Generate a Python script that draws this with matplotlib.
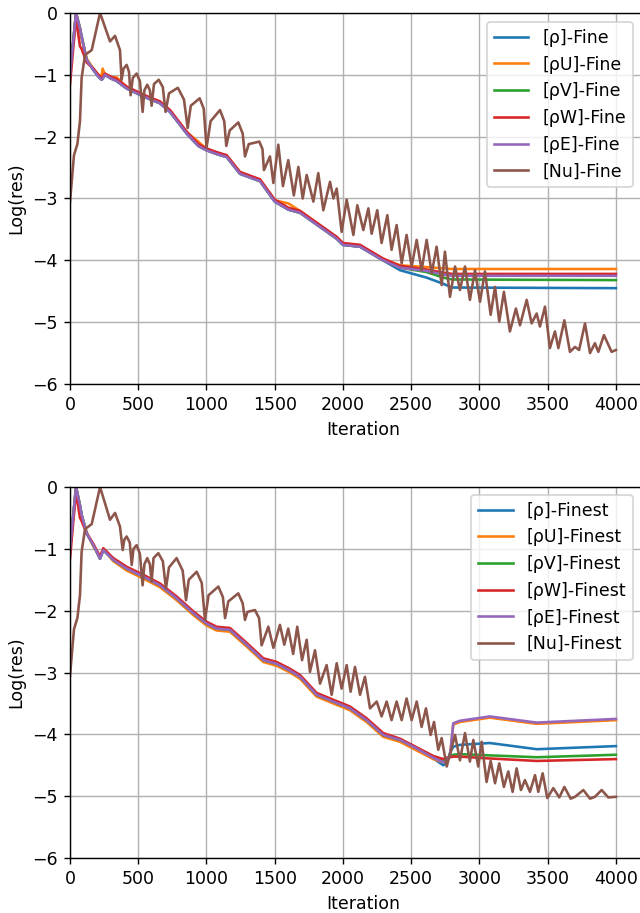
import numpy as np
import matplotlib.pyplot as plt

# Residual history (Fine / Finest grid)

# ---------- Fine grid ----------
it_fine = [0, 44, 73, 85, 122, 171, 208, 232, 239, 256, 300, 342, 415, 537, 659, 733, 855, 940,
           1000, 1074, 1148, 1245, 1392, 1500, 1600, 1685, 1954, 2000, 2125, 2293, 2418, 2613,
           2735, 2800, 4000]
rho_fine = [-1.00, 0.00, -0.25, -0.38, -0.76, -0.92, -1.03, -1.08, -1.06, -1.00, -1.06, -1.10,
            -1.22, -1.35, -1.46, -1.60, -1.95, -2.15, -2.22, -2.28, -2.33, -2.60, -2.72, -3.05,
            -3.18, -3.23, -3.65, -3.75, -3.78, -4.00, -4.16, -4.28, -4.38, -4.44, -4.45]
rhou_fine = [-1.00, 0.00, -0.25, -0.40, -0.74, -0.90, -1.00, -1.02, -0.90, -1.00, -1.04, -1.04,
             -1.20, -1.33, -1.45, -1.58, -1.93, -2.08, -2.20, -2.26, -2.31, -2.58, -2.70, -3.03,
             -3.08, -3.20, -3.63, -3.73, -3.76, -3.98, -4.08, -4.11, -4.13, -4.14, -4.14]
rhov_fine = [-1.00, 0.00, -0.25, -0.38, -0.76, -0.92, -1.03, -1.08, -1.06, -1.00, -1.06, -1.10,
             -1.22, -1.35, -1.46, -1.60, -1.95, -2.15, -2.22, -2.28, -2.33, -2.60, -2.72, -3.05,
             -3.18, -3.23, -3.65, -3.75, -3.78, -4.00, -4.12, -4.19, -4.28, -4.31, -4.32]
rhow_fine = [-1.15, -0.08, -0.54, -0.58, -0.80, -0.90, -1.00, -1.05, -1.04, -0.98, -1.03, -1.07,
             -1.19, -1.32, -1.43, -1.57, -1.92, -2.12, -2.19, -2.25, -2.30, -2.57, -2.69, -3.02,
             -3.15, -3.20, -3.62, -3.72, -3.75, -3.97, -4.09, -4.15, -4.20, -4.22, -4.22]
rhoe_fine = [-1.00, 0.00, -0.25, -0.38, -0.76, -0.92, -1.03, -1.08, -1.06, -1.00, -1.06, -1.10,
             -1.22, -1.35, -1.46, -1.60, -1.95, -2.15, -2.22, -2.28, -2.33, -2.60, -2.72, -3.05,
             -3.18, -3.23, -3.65, -3.75, -3.78, -4.00, -4.12, -4.17, -4.23, -4.25, -4.25]

# Nu residual (troughs, shoulders and peaks of the oscillation)
nu_it_fine = [0, 29, 54, 73, 85, 110, 159, 220, 293, 330, 366, 378, 392, 415, 432, 444, 460, 488,
              512, 532, 545, 566, 585, 598, 615, 650, 680, 700, 725, 790, 835, 862, 885, 950, 980,
              1000, 1030, 1099, 1130, 1145, 1170, 1233, 1265, 1282, 1310, 1387, 1410, 1421, 1465,
              1490, 1526, 1560, 1599, 1640, 1673, 1705, 1734, 1783, 1819, 1856, 1905, 1930, 1954,
              1990, 2027, 2076, 2105, 2149, 2186, 2210, 2251, 2283, 2325, 2356, 2393, 2430, 2466,
              2503, 2540, 2576, 2613, 2650, 2686, 2723, 2747, 2784, 2821, 2857, 2894, 2930, 2967,
              3004, 3040, 3082, 3114, 3145, 3179, 3223, 3267, 3297, 3346, 3382, 3419, 3443, 3480,
              3516, 3553, 3578, 3622, 3663, 3700, 3730, 3773, 3810, 3846, 3871, 3912, 3968, 4000]
nu_fine = [-3.05, -2.30, -2.12, -1.75, -1.05, -0.68, -0.60, 0.00, -0.46, -0.37, -0.60, -1.08,
           -0.90, -0.84, -0.95, -1.33, -1.05, -0.98, -1.10, -1.60, -1.25, -1.16, -1.25, -1.50,
           -1.15, -1.08, -1.20, -1.60, -1.30, -1.21, -1.40, -1.86, -1.50, -1.38, -1.55, -2.18,
           -1.75, -1.57, -1.75, -2.15, -1.90, -1.77, -1.95, -2.32, -2.12, -2.08, -2.20, -2.54,
           -2.32, -2.75, -2.13, -2.80, -2.38, -2.95, -2.49, -3.00, -2.62, -3.05, -2.59, -3.19,
           -2.73, -3.00, -2.84, -3.54, -3.02, -3.59, -3.11, -3.51, -3.16, -3.57, -3.19, -3.72,
           -3.27, -3.83, -3.43, -4.05, -3.59, -4.10, -3.67, -4.16, -3.67, -4.21, -3.78, -4.40,
           -3.86, -4.59, -4.10, -4.48, -4.10, -4.64, -4.16, -4.67, -4.18, -4.88, -4.43, -4.99,
           -4.51, -5.15, -4.78, -5.05, -4.64, -5.02, -4.86, -5.07, -4.75, -5.42, -5.15, -5.42,
           -4.97, -5.48, -5.40, -5.45, -5.02, -5.50, -5.34, -5.48, -5.21, -5.48, -5.45]

# ---------- Finest grid ----------
it_finest = [0, 44, 73, 85, 122, 171, 220, 244, 317, 415, 537, 659, 781, 903, 1001, 1074, 1172,
             1294, 1416, 1514, 1612, 1685, 1807, 1929, 2051, 2173, 2295, 2418, 2540, 2662, 2735,
             2760, 2784, 2808, 2857, 3076, 3419, 4000]
rho_finest = [-1.00, 0.00, -0.30, -0.45, -0.75, -0.94, -1.16, -1.02, -1.18, -1.32, -1.45, -1.59,
              -1.80, -2.04, -2.21, -2.29, -2.31, -2.55, -2.80, -2.86, -2.97, -3.07, -3.36, -3.47,
              -3.58, -3.77, -4.01, -4.09, -4.23, -4.39, -4.50, -4.46, -4.30, -4.20, -4.17, -4.14,
              -4.24, -4.19]
rhou_finest = [-1.00, 0.00, -0.30, -0.47, -0.73, -0.96, -1.12, -1.00, -1.20, -1.35, -1.48, -1.62,
               -1.83, -2.07, -2.24, -2.32, -2.34, -2.58, -2.83, -2.89, -3.00, -3.10, -3.39, -3.50,
               -3.61, -3.80, -4.04, -4.12, -4.26, -4.40, -4.45, -4.42, -4.36, -3.84, -3.80, -3.73,
               -3.83, -3.77]
rhov_finest = [-1.00, 0.00, -0.30, -0.45, -0.75, -0.94, -1.16, -1.02, -1.18, -1.32, -1.45, -1.59,
               -1.80, -2.04, -2.21, -2.29, -2.31, -2.55, -2.80, -2.86, -2.97, -3.07, -3.36, -3.47,
               -3.58, -3.77, -4.01, -4.09, -4.22, -4.36, -4.43, -4.40, -4.35, -4.33, -4.32, -4.34,
               -4.37, -4.33]
rhow_finest = [-1.15, -0.08, -0.50, -0.55, -0.75, -0.92, -1.13, -0.99, -1.15, -1.29, -1.42, -1.56,
               -1.77, -2.01, -2.18, -2.26, -2.28, -2.52, -2.77, -2.83, -2.94, -3.04, -3.33, -3.44,
               -3.55, -3.74, -3.98, -4.07, -4.21, -4.35, -4.40, -4.38, -4.37, -4.36, -4.36, -4.39,
               -4.43, -4.40]
rhoe_finest = [-1.00, 0.00, -0.30, -0.45, -0.75, -0.94, -1.16, -1.02, -1.18, -1.32, -1.45, -1.59,
               -1.80, -2.04, -2.21, -2.29, -2.31, -2.55, -2.80, -2.86, -2.97, -3.07, -3.36, -3.47,
               -3.58, -3.77, -4.01, -4.09, -4.23, -4.38, -4.45, -4.42, -4.35, -3.82, -3.78, -3.71,
               -3.81, -3.75]

nu_it_finest = [0, 29, 54, 73, 85, 110, 159, 220, 293, 330, 366, 386, 398, 415, 438, 452, 465, 488,
                512, 532, 545, 566, 585, 598, 612, 647, 680, 703, 725, 781, 825, 850, 870, 928, 965,
                989, 1015, 1087, 1120, 1136, 1160, 1233, 1265, 1282, 1300, 1355, 1385, 1404, 1453,
                1490, 1538, 1570, 1599, 1635, 1665, 1700, 1734, 1758, 1795, 1832, 1880, 1917, 1954,
                1990, 2027, 2056, 2088, 2125, 2161, 2198, 2247, 2283, 2320, 2356, 2393, 2430, 2466,
                2503, 2540, 2576, 2608, 2642, 2667, 2698, 2723, 2760, 2821, 2857, 2894, 2930, 2955,
                2991, 3016, 3052, 3082, 3114, 3145, 3179, 3211, 3243, 3272, 3304, 3333, 3370, 3407,
                3431, 3463, 3497, 3541, 3585, 3622, 3668, 3700, 3761, 3810, 3846, 3895, 3944, 4000]
nu_finest = [-3.05, -2.30, -2.12, -1.75, -1.05, -0.68, -0.60, 0.00, -0.53, -0.42, -0.64, -1.02,
             -0.85, -0.80, -0.90, -1.26, -1.00, -0.94, -1.08, -1.59, -1.25, -1.15, -1.25, -1.53,
             -1.15, -1.07, -1.20, -1.64, -1.30, -1.15, -1.35, -1.83, -1.50, -1.37, -1.55, -2.15,
             -1.75, -1.61, -1.78, -2.12, -1.85, -1.72, -1.88, -2.15, -2.02, -1.99, -2.12, -2.56,
             -2.26, -2.60, -2.23, -2.55, -2.29, -2.70, -2.26, -2.80, -2.47, -2.99, -2.64, -3.18,
             -2.88, -3.36, -2.85, -3.26, -2.88, -3.31, -2.91, -3.36, -3.07, -3.58, -3.47, -3.71,
             -3.47, -3.77, -3.47, -3.77, -3.42, -3.77, -3.47, -3.88, -3.58, -4.01, -3.80, -4.25,
             -4.06, -4.52, -4.01, -4.42, -3.98, -4.44, -4.09, -4.52, -4.12, -4.77, -4.43, -4.79,
             -4.47, -4.85, -4.60, -4.93, -4.55, -4.90, -4.74, -4.93, -4.66, -4.93, -4.63, -5.03,
             -4.87, -5.02, -4.85, -5.04, -5.01, -4.90, -5.04, -5.01, -4.90, -5.02, -5.01]

names = ['[ρ]', '[ρU]', '[ρV]', '[ρW]', '[ρE]', '[Nu]']

# picture was rendered at a larger scale, so draw at 125 dpi
fig = plt.figure(figsize=(5.12, 7.304), dpi=125)
ax1 = fig.add_axes([0.1094, 0.5794, 0.917, 0.4064])
ax2 = fig.add_axes([0.1094, 0.0602, 0.917, 0.4064])

panels = [
    (ax1, '-Fine', 0.976, it_fine, [rho_fine, rhou_fine, rhov_fine, rhow_fine, rhoe_fine],
     nu_it_fine, nu_fine),
    (ax2, '-Finest', 0.458, it_finest, [rho_finest, rhou_finest, rhov_finest, rhow_finest, rhoe_finest],
     nu_it_finest, nu_finest),
]

for ax, tag, leg_top, its, series, nu_its, nu in panels:
    for name, vals in zip(names[:5], series):
        ax.plot(its, vals, linewidth=1.5, label=name + tag)
    ax.plot(nu_its, nu, linewidth=1.5, label=names[5] + tag)
    ax.set_xlim(0, 4300)
    ax.set_ylim(-6, 0)
    ax.set_xticks(np.arange(0, 4001, 500))
    ax.set_xlabel('Iteration')
    ax.set_ylabel('Log(res)')
    ax.grid(True)
    # the right spine falls outside the picture, so pin the legend in figure space
    ax.legend(loc='upper right', bbox_to_anchor=(0.989, leg_top),
              bbox_transform=fig.transFigure, borderaxespad=0)

fig.savefig('out.png', dpi=125)
